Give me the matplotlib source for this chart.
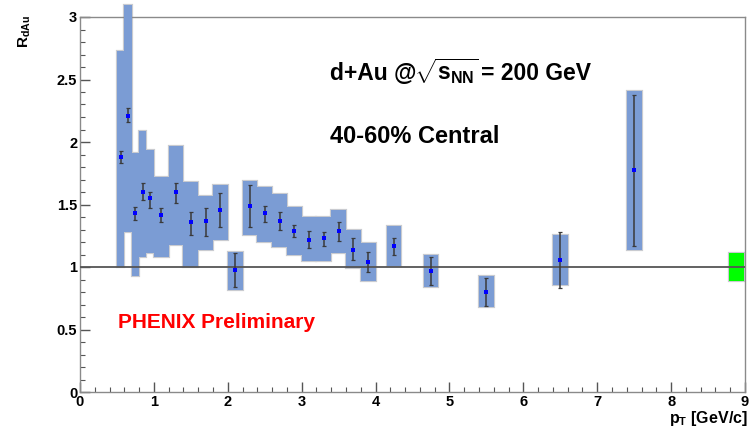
import matplotlib
matplotlib.use("Agg")
import matplotlib.pyplot as plt
from matplotlib.patches import Rectangle
from matplotlib.ticker import MultipleLocator
from matplotlib.transforms import offset_copy

# ---- data ----
pt = [0.55, 0.65, 0.75, 0.85, 0.95, 1.1, 1.3, 1.5, 1.7, 1.9, 2.1, 2.3, 2.5, 2.7,
      2.9, 3.1, 3.3, 3.5, 3.7, 3.9, 4.25, 4.75, 5.5, 6.5, 7.5]
r_dau = [1.88, 2.21, 1.43, 1.60, 1.55, 1.42, 1.60, 1.36, 1.37, 1.46, 0.98, 1.49, 1.43, 1.37,
         1.29, 1.22, 1.23, 1.29, 1.14, 1.04, 1.17, 0.97, 0.80, 1.06, 1.78]
stat_low = [1.83, 2.16, 1.38, 1.54, 1.47, 1.36, 1.51, 1.26, 1.25, 1.32, 0.84, 1.32, 1.36, 1.30,
            1.24, 1.15, 1.17, 1.21, 1.06, 0.96, 1.10, 0.86, 0.69, 0.83, 1.17]
stat_high = [1.93, 2.27, 1.48, 1.67, 1.60, 1.47, 1.67, 1.44, 1.47, 1.59, 1.11, 1.66, 1.49, 1.44,
             1.34, 1.29, 1.28, 1.36, 1.23, 1.12, 1.23, 1.08, 0.91, 1.28, 2.38]
sys_low = [1.00, 1.28, 0.93, 1.08, 1.11, 1.08, 1.18, 1.00, 1.14, 1.22, 0.82, 1.26, 1.20, 1.16,
           1.10, 1.05, 1.05, 1.11, 0.99, 0.89, 1.01, 0.84, 0.68, 0.86, 1.14]
sys_high = [2.73, 3.10, 1.91, 2.09, 1.94, 1.72, 1.97, 1.68, 1.57, 1.66, 1.12, 1.69, 1.64, 1.58,
            1.48, 1.40, 1.40, 1.46, 1.30, 1.19, 1.33, 1.10, 0.93, 1.26, 2.41]
box_width = [0.1, 0.1, 0.1, 0.1, 0.1] + [0.2] * 20
norm_pt = 8.88
norm_unc = 0.115

# ---- style ----
plt.rcParams['font.family'] = ['Liberation Sans', 'DejaVu Sans']
plt.rcParams['font.weight'] = 'bold'
plt.rcParams['mathtext.fontset'] = 'custom'
plt.rcParams['mathtext.rm'] = 'Liberation Sans:bold'
plt.rcParams['mathtext.it'] = 'Liberation Sans:bold'
plt.rcParams['mathtext.bf'] = 'Liberation Sans:bold'

fig = plt.figure(figsize=(7.51, 4.32), dpi=100)
ax = fig.add_axes([80 / 751, 1 - 392 / 432, 665 / 751, 375 / 432])
ax.set_xlim(0, 9)
ax.set_ylim(0, 3)

box_color = '#7b9cd4'
edge_color = '#c9cbd0'
for x, lo, hi, w in zip(pt, sys_low, sys_high, box_width):
    ax.add_patch(Rectangle((x - w / 2, lo), w, hi - lo, facecolor='none',
                           edgecolor=edge_color, lw=1.6, zorder=2, clip_on=False))
for x, lo, hi, w in zip(pt, sys_low, sys_high, box_width):
    ax.add_patch(Rectangle((x - w / 2, lo), w, hi - lo, facecolor=box_color,
                           edgecolor='none', lw=0, zorder=3, clip_on=False))

# normalization box
ax.add_patch(Rectangle((norm_pt - 0.1, 1 - norm_unc), 0.2, 2 * norm_unc, facecolor='none',
                       edgecolor=edge_color, lw=1.6, zorder=2))
ax.add_patch(Rectangle((norm_pt - 0.1, 1 - norm_unc), 0.2, 2 * norm_unc, facecolor='#00ff00',
                       edgecolor='none', zorder=3))

ax.axhline(1.0, color='#555555', lw=1.3, zorder=4)

yerr = [[v - l for v, l in zip(r_dau, stat_low)], [h - v for v, h in zip(r_dau, stat_high)]]
ax.errorbar(pt, r_dau, yerr=yerr, fmt='none', ecolor='#3a3a3a', elinewidth=1.1,
            capsize=1.6, capthick=0.9, zorder=5)
ax.plot(pt, r_dau, 's', color='#0000ff', markersize=2.2, markeredgewidth=0, zorder=6)

# axes styling
for s in ax.spines.values():
    s.set_color('#8a8a8a')
    s.set_linewidth(1.0)
ax.xaxis.set_major_locator(MultipleLocator(1))
ax.xaxis.set_minor_locator(MultipleLocator(0.2))
ax.yaxis.set_major_locator(MultipleLocator(0.5))
ax.yaxis.set_minor_locator(MultipleLocator(0.1))
ax.tick_params(which='both', direction='in', top=False, right=False, color='#555555')
ax.tick_params(which='major', length=7, width=1.0, labelsize=10.5, pad=2)
ax.tick_params(which='minor', length=3.8, width=0.8)
ax.set_xticks(range(0, 10))
ax.set_xticklabels([str(i) for i in range(0, 10)])
ax.set_yticks([0, 0.5, 1, 1.5, 2, 2.5, 3])
ax.set_yticklabels(['0', '0.5', '1', '1.5', '2', '2.5', '3'])
for lab in ax.get_xticklabels() + ax.get_yticklabels():
    lab.set_fontweight('bold')

fig.text(748 / 751, 1 - 418 / 432, r'p$_{\mathrm{T}}$ [GeV/c]', ha='right', va='center',
         fontsize=11.5, fontweight='bold')
fig.text(25 / 751, 1 - 15 / 432, r'R$_{\mathrm{dAu}}$', ha='center', va='top', rotation=90,
         fontsize=11, fontweight='bold')

# title line composed of pieces so that the root part stays compact
renderer = fig.canvas.get_renderer()
t1 = ax.text(3.39, 2.496, 'd+Au @', ha='left', va='baseline', fontsize=16.5,
             fontweight='bold', zorder=7)
w1 = t1.get_window_extent(renderer).width
t2 = ax.text(3.39, 2.496, r'$\sqrt{\mathrm{s}_{\mathrm{NN}}}$', ha='left', va='baseline',
             fontsize=16.5, fontweight='bold', zorder=7,
             transform=offset_copy(ax.transData, fig=fig, x=w1 - 3, y=0, units='dots'))
w2 = t2.get_window_extent(renderer).width
t3 = ax.text(3.39, 2.496, '= 200 GeV', ha='left', va='baseline', fontsize=16.5,
             fontweight='bold', zorder=7,
             transform=offset_copy(ax.transData, fig=fig, x=w1 + w2 - 0.5, y=0,
                                   units='dots'))

ax.text(3.39, 1.99, '40-60% Central', ha='left', va='baseline', fontsize=17,
        fontweight='bold', zorder=7)
ax.text(0.52, 0.51, 'PHENIX Preliminary', ha='left', va='baseline', fontsize=15,
        fontweight='bold', color='#ff0000', zorder=7)

fig.savefig('out.png', dpi=100)
